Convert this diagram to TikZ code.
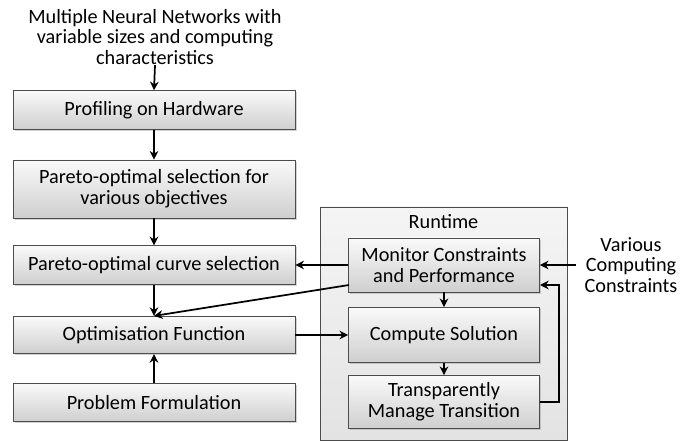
\documentclass[tikz,border=0pt]{standalone}
\usepackage{fontspec}
\setmainfont{Carlito}
\usetikzlibrary{arrows.meta,shadows,backgrounds}
\newcommand{\boxtop}{gray!4}
\newcommand{\boxbottom}{gray!38}
\tikzset{
  stepbox/.style={draw=black!70, line width=0.6pt, top color=\boxtop, bottom color=\boxbottom,
    drop shadow={shadow xshift=1.2pt, shadow yshift=-1.2pt, opacity=0.35},
    inner sep=0pt, align=center, font=\fontsize{15.2}{15.6}\selectfont},
  leftbox/.style={stepbox, minimum width=211.5pt, minimum height=29pt},
  runbox/.style={stepbox, minimum width=143.25pt, minimum height=40.5pt},
  plain/.style={align=center, inner sep=0pt, font=\fontsize{15.2}{15.6}\selectfont},
  arr/.style={-{Stealth[length=6.5pt,width=6.5pt]}, line width=1.3pt}
}

\begin{document}
\begin{tikzpicture}[x=0.75pt,y=-0.75pt]
\useasboundingbox (0,0) rectangle (697,441);
% runtime frame
\node[draw=black!70, line width=0.6pt, top color=gray!8, bottom color=gray!22,
  minimum width=185.25pt, minimum height=174.75pt] (runtime) at (443.5,323.5) {};
\node[plain] (rtlabel) at (443.5,222) {Runtime};
% left column
\node[plain] (nets) at (155,37) {Multiple Neural Networks with\\variable sizes and computing\\characteristics};
\node[leftbox] (prof) at (154,110) {Profiling on Hardware};
\node[leftbox, minimum height=43.5pt] (sel) at (154,189) {Pareto-optimal selection for\\various objectives};
\node[leftbox] (curve) at (154,265) {Pareto-optimal curve selection};
\node[leftbox, minimum height=28pt] (opt) at (154,335) {Optimisation Function};
\node[leftbox] (prob) at (154,402.5) {Problem Formulation};
% runtime column
\node[runbox] (mon) at (444,265) {Monitor Constraints\\and Performance};
\node[runbox, minimum height=41.25pt] (comp) at (444,335) {Compute Solution};
\node[runbox, minimum height=39.75pt] (trans) at (444,402) {Transparently\\Manage Transition};
\node[plain] (various) at (631,265) {Various\\Computing\\Constraints};
% connectors
\draw[arr] (nets.south) -- (prof.north);
\draw[arr] (prof) -- (sel);
\draw[arr] (sel) -- (curve);
\draw[arr] (curve) -- (opt);
\draw[arr] (prob) -- (opt);
\draw[arr] (mon.west) -- (curve.east);
\coordinate (monlow) at (349,285);
\coordinate (fbin) at (540,285);
\draw[arr] (monlow) -- (opt.north);
\draw[arr] (opt.east) -- (opt.east -| comp.west);
\draw[arr] (mon) -- (comp);
\draw[arr] (comp) -- (trans);
\draw[arr] ([xshift=-6pt]various.west |- mon.east) -- (mon.east);
\draw[arr] (trans.east) -- (559,402) |- (fbin);
\end{tikzpicture}
\end{document}
